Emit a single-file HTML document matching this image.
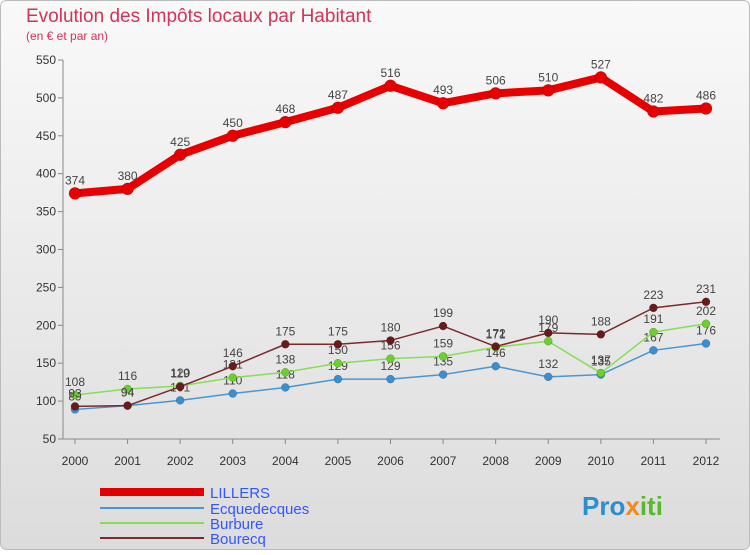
<!DOCTYPE html>
<html><head><meta charset="utf-8"><style>
body{margin:0;background:#fff;font-family:"Liberation Sans",sans-serif}
svg text{font-family:"Liberation Sans",sans-serif}
</style></head><body>
<svg width="750" height="550" viewBox="0 0 750 550">
<defs><linearGradient id="bg" x1="0" y1="0" x2="0" y2="1"><stop offset="0" stop-color="#f9f9f9"/><stop offset="1" stop-color="#dcdcdc"/></linearGradient></defs>
<rect x="0.5" y="0.5" width="749" height="549" rx="6" fill="url(#bg)" stroke="#bbb"/>
<text x="26" y="22" font-size="19" fill="#d0345a">Evolution des Impôts locaux par Habitant</text>
<text x="26" y="40" font-size="12" fill="#d0345a">(en € et par an)</text>
<g id="axes"></g><g id="series"></g>
<g>
<rect x="100" y="488" width="104" height="8" fill="#e00000"/>
<text x="210" y="498" font-size="15" fill="#3355ff">LILLERS</text>
<line x1="100" y1="508" x2="204" y2="508" stroke="#4a96d2" stroke-width="2"/>
<text x="210" y="514" font-size="15" fill="#3355ff">Ecquedecques</text>
<line x1="100" y1="523" x2="204" y2="523" stroke="#88dd55" stroke-width="2"/>
<text x="210" y="529" font-size="15" fill="#3355ff">Burbure</text>
<line x1="100" y1="538" x2="204" y2="538" stroke="#7a2a2a" stroke-width="2"/>
<text x="210" y="544" font-size="15" fill="#3355ff">Bourecq</text>
</g>
<text x="582" y="515" font-size="26" font-weight="bold" fill="#2a8fd0">Pro<tspan fill="#f08a1c">x</tspan><tspan fill="#58b82e">iti</tspan></text>
</svg>
<script>
const years=[2000,2001,2002,2003,2004,2005,2006,2007,2008,2009,2010,2011,2012];
const yTicks=[50,100,150,200,250,300,350,400,450,500,550];
const lillers=[374,380,425,450,468,487,516,493,506,510,527,482,486];
const ecquedecques=[89,94,101,110,118,129,129,135,146,132,135,167,176];
const burbure=[108,116,120,131,138,150,156,159,171,179,137,191,202];
const bourecq=[93,94,119,146,175,175,180,199,172,190,188,223,231];
const NS="http://www.w3.org/2000/svg";
const X=i=>75+i*(706-75)/(years.length-1);
const Y=v=>439-(v-50)*(379/500);
function mk(t,a,p){const e=document.createElementNS(NS,t);for(const k in a)e.setAttribute(k,a[k]);p.appendChild(e);return e;}
const ax=document.getElementById('axes'),sg=document.getElementById('series');
const yl=mk('line',{x1:63,y1:Y(550),x2:63,y2:Y(50),stroke:'#888'},ax);


const xl=mk('line',{x1:63,y1:Y(50),x2:720,y2:Y(50),stroke:'#888'},ax);


yTicks.forEach(v=>{
 const t=mk('text',{x:56,y:Y(v)+4,'font-size':12,'text-anchor':'end',fill:'#333'},ax);t.textContent=v;
 
 
 mk('line',{x1:58,y1:Y(v),x2:63,y2:Y(v),stroke:'#888'},ax);
});
years.forEach((y,i)=>{
 const t=mk('text',{x:X(i),y:465,'font-size':12,'text-anchor':'middle',fill:'#333'},ax);t.textContent=y;
 
 
 mk('line',{x1:X(i),y1:Y(50),x2:X(i),y2:Y(50)+5,stroke:'#888'},ax);
});
function series(d,color,w,r,name,dot){
 const g=mk('g',{},sg);
 
 
 const pl=mk('polyline',{points:d.map((v,i)=>X(i)+','+Y(v)).join(' '),fill:'none',stroke:color,'stroke-width':w,'stroke-linejoin':'round'},g);
 
 
 d.forEach((v,i)=>{
  const c=mk('circle',{cx:X(i),cy:Y(v),r:r,fill:dot,stroke:'rgba(0,0,0,0.3)','stroke-width':0.5},g);
  
  
  const t=mk('text',{x:X(i),y:Y(v)-9,'font-size':12,'text-anchor':'middle',fill:'#444'},g);t.textContent=v;
  
  
 });
}
series(ecquedecques,'#4a96d2',1.5,4,'ecquedecques','#3a8fd0');
series(burbure,'#88dd55',1.5,4,'burbure','#6cd02c');
series(bourecq,'#7a2a2a',1.5,4,'bourecq','#6a1a1a');
series(lillers,'#e80000',8,6,'lillers','#e80000');
</script>
</body></html>
